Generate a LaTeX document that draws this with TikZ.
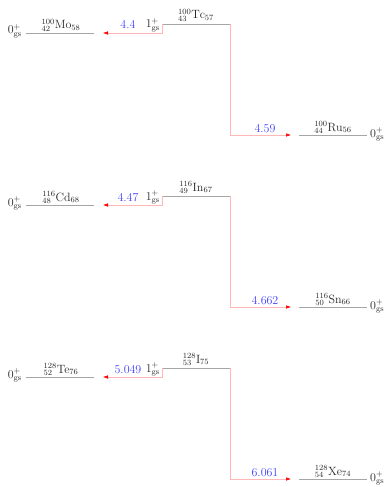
\documentclass[tikz,border=0pt]{standalone}
\usetikzlibrary{arrows.meta}
\begin{document}
\begin{tikzpicture}[x=1pt,y=-1pt,font=\fontsize{12}{14}\selectfont,
  level/.style={draw=gray!70,line width=0.5pt},
  trans/.style={draw=red!28,line width=0.5pt},
  arr/.style={-{Latex[length=5pt,width=3.5pt,color=red]}},
  nuc/.style={anchor=base,inner sep=0pt,text=black!85},
  spin/.style={inner sep=0pt,text=black!85},
  qval/.style={anchor=base,inner sep=0pt,text=blue!75}]
\useasboundingbox (0,0) rectangle (386,487);
\foreach \dy/\Pa/\Pz/\Pn/\Pe/\Ma/\Mz/\Mn/\Me/\Da/\Dz/\Dn/\De/\Ql/\Qr/\k in {
  0/100/43/57/Tc/100/42/58/Mo/100/44/56/Ru/4.4/4.59/a,
  172/116/49/67/In/116/48/68/Cd/116/50/66/Sn/4.47/4.662/b,
  344/128/53/75/I/128/52/76/Te/128/54/74/Xe/5.049/6.061/c}{
  % parent level
  \coordinate (p1\k) at (162,24+\dy);
  \coordinate (p2\k) at (230,24+\dy);
  \draw[level] (p1\k) -- (p2\k);
  \node[nuc] (pl\k) at (196,19+\dy) {${}^{\Pa}_{\Pz}\mathrm{\Pe}_{\Pn}$};
  \node[spin,anchor=base east] (ps\k) at (160,28+\dy) {$1^+_{\mathrm{gs}}$};
  % left daughter
  \coordinate (l1\k) at (26,33+\dy);
  \coordinate (l2\k) at (94,33+\dy);
  \draw[level] (l1\k) -- (l2\k);
  \node[nuc] (ll\k) at (61,29+\dy) {${}^{\Ma}_{\Mz}\mathrm{\Me}_{\Mn}$};
  \node[spin,anchor=base east] (ls\k) at (22,34+\dy) {$0^+_{\mathrm{gs}}$};
  % right daughter
  \coordinate (r1\k) at (299,135+\dy);
  \coordinate (r2\k) at (367,135+\dy);
  \draw[level] (r1\k) -- (r2\k);
  \node[nuc] (rl\k) at (333,131+\dy) {${}^{\Da}_{\Dz}\mathrm{\De}_{\Dn}$};
  \node[spin,anchor=base west] (rs\k) at (370,137+\dy) {$0^+_{\mathrm{gs}}$};
  % transitions
  \coordinate (lt\k) at (103,33+\dy);
  \coordinate (rt\k) at (291,135+\dy);
  \draw[trans,arr] (p1\k) |- (lt\k);
  \draw[trans,arr] (p2\k) |- (rt\k);
  \node[qval] (ql\k) at (128,29+\dy) {$\Ql$};
  \node[qval] (qr\k) at (265,132+\dy) {$\Qr$};
}
\end{tikzpicture}
\end{document}
